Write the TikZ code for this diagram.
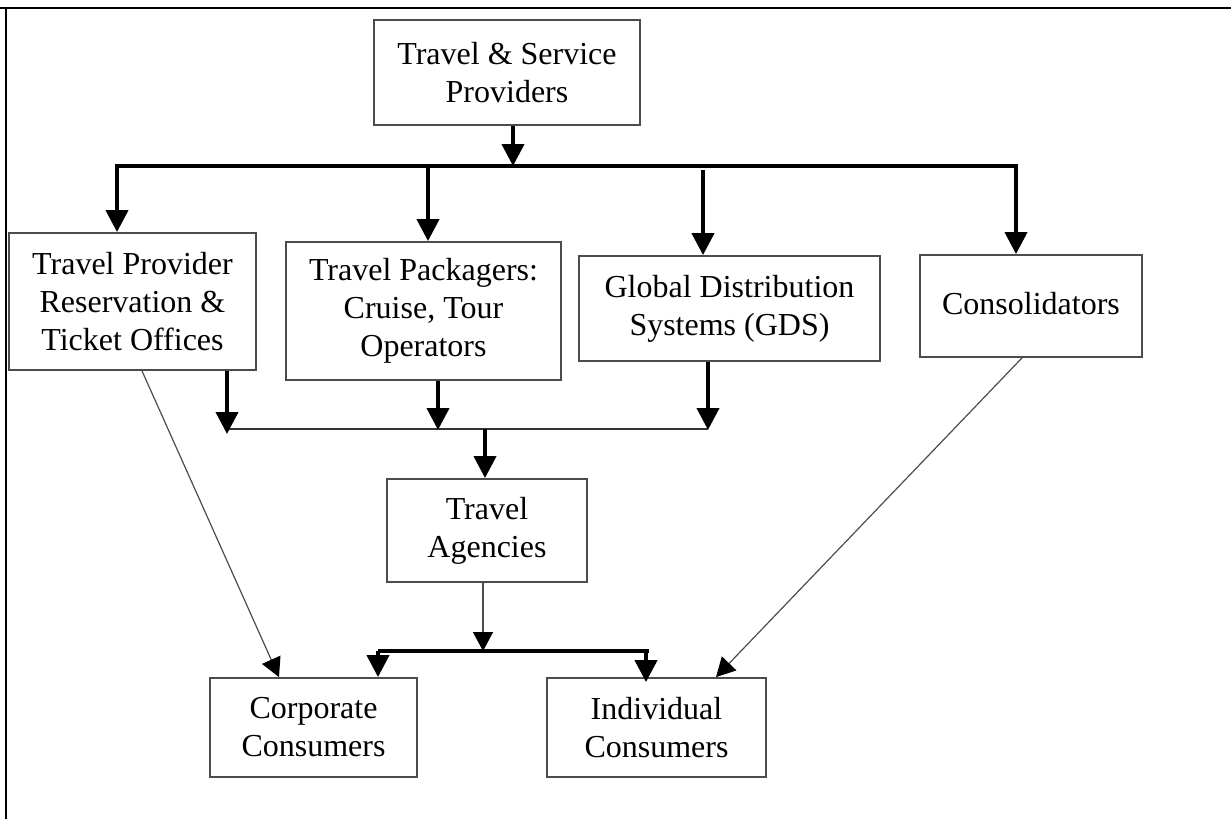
\documentclass[tikz,border=0pt]{standalone}
\usepackage{fontspec}
\setmainfont{Liberation Serif}
\usetikzlibrary{arrows.meta}
\begin{document}
\begin{tikzpicture}[x=1pt,y=-1pt,
  box/.style={draw=black!70,line width=1.8pt,inner sep=0pt,align=center,
    font=\fontsize{32}{38}\selectfont},
  bold/.style={line width=4pt,black},
  thinbus/.style={line width=2pt,black!80},
  thinline/.style={line width=1.2pt,black!70},
  headb/.style={-{Triangle[width=22pt,length=22pt,black]}},
  heads/.style={-{Triangle[width=20pt,length=19pt,black]}}]
\useasboundingbox (0,0) rectangle (1231,819);
% frame
\draw[line width=2.5pt] (0,8) -- (1231,8);
\draw[line width=2.5pt] (6,8) -- (6,819);
% boxes
\node[box,minimum width=266pt,minimum height=105pt] (top) at (507,72.5) {Travel \& Service\\Providers};
\node[box,minimum width=247pt,minimum height=137pt] (b1) at (132.5,301.5) {Travel Provider\\Reservation \&\\Ticket Offices};
\node[box,minimum width=275pt,minimum height=138pt] (b2) at (423.5,311) {Travel Packagers:\\Cruise, Tour\\Operators};
\node[box,minimum width=301pt,minimum height=105pt] (b3) at (729.5,308.5) {Global Distribution\\Systems (GDS)};
\node[box,minimum width=222pt,minimum height=102pt] (b4) at (1031,306) {\raisebox{5pt}{Consolidators}};
\node[box,minimum width=200pt,minimum height=103pt] (ta) at (487,530.5) {Travel\\Agencies};
\node[box,minimum width=207pt,minimum height=99pt] (corp) at (313.5,727.5) {Corporate\\Consumers};
\node[box,minimum width=219pt,minimum height=99pt] (ind) at (656.5,727.5) {Individual\\Consumers};
% upper bus
\coordinate (busL) at (115,166);
\coordinate (busR) at (1018,166);
\coordinate (bJ) at (513,166);
\coordinate (a1) at (117,166);
\coordinate (a2) at (428,166);
\coordinate (a3) at (703,170);
\coordinate (a4) at (1016,166);
\draw[bold] (busL) -- (busR);
\draw[bold,headb] (top.south -| bJ) -- (bJ);
\draw[bold,headb] (a1) -- (b1.north -| a1);
\draw[bold,headb] (a2) -- (b2.north -| a2);
\draw[bold,headb] (a3) -- (b3.north -| a3);
\draw[bold,headb] (a4) -- (b4.north -| a4);
% lower bus
\coordinate (l1) at (227,434);
\coordinate (l2) at (438,430);
\coordinate (l3) at (708,430);
\coordinate (lL) at (227,429);
\coordinate (lR) at (708,429);
\coordinate (lJ) at (485,429);
\draw[thinbus] (lL) -- (lR);
\draw[bold,headb] (b1.south -| l1) -- (l1);
\draw[bold,headb] (b2.south -| l2) -- (l2);
\draw[bold,headb] (b3.south -| l3) -- (l3);
\draw[bold,headb] (lJ) -- (ta.north -| lJ);
% bottom bus
\coordinate (tJ) at (483,651);
\coordinate (cL) at (378,651);
\coordinate (cR) at (649,651);
\coordinate (c2) at (646,651);
\draw[thinline,line width=1.5pt,heads] (ta.south -| tJ) -- (tJ);
\draw[bold] (cL) -- (cR);
\draw[bold,headb] (cL) -- (corp.north -| cL);
\draw[bold,headb] (c2) -- ([yshift=-5pt]ind.north -| c2);
% diagonals
\coordinate (d1s) at (142,370);
\coordinate (d1e) at (279,678);
\coordinate (d2s) at (1022,357);
\coordinate (d2e) at (716,678);
\draw[thinline,heads] (b1.south -| d1s) -- (corp.north -| d1e);
\draw[thinline,heads] (b4.south -| d2s) -- (ind.north -| d2e);
\end{tikzpicture}
\end{document}
